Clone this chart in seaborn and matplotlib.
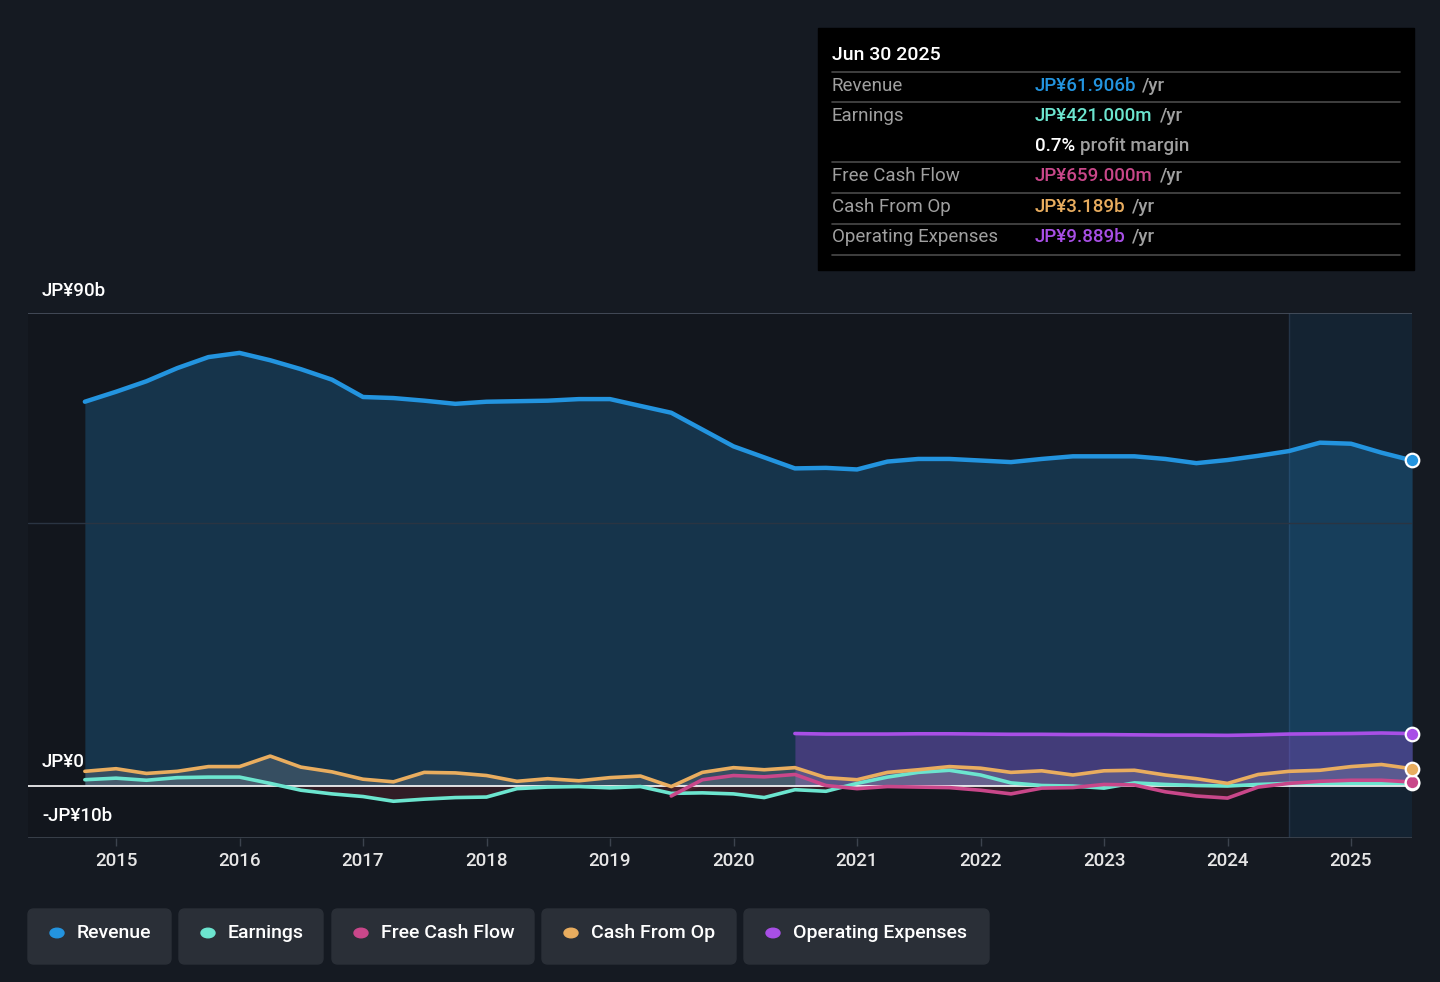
import pandas as pd
import numpy as np
import matplotlib.pyplot as plt
import seaborn as sns
from matplotlib.patches import Rectangle, FancyBboxPatch, Circle
from matplotlib.lines import Line2D
import matplotlib.transforms as mtransforms

# quarterly trailing-twelve-month values, JP¥ billions
quarters = pd.date_range('2014-09-30', '2025-06-30', freq='QE')
revenue = [73.1, 75.0, 77.0, 79.5, 81.6, 82.4, 81.0, 79.3, 77.3, 74.0,
           73.8, 73.3, 72.7, 73.1, 73.2, 73.3, 73.6, 73.6, 72.3, 71.0,
           67.8, 64.6, 62.5, 60.4, 60.5, 60.2, 61.7, 62.2, 62.2, 61.9,
           61.6, 62.2, 62.7, 62.7, 62.7, 62.2, 61.4, 62.0, 62.8, 63.7,
           65.3, 65.1, 63.4, 61.906]
earnings = [1.1, 1.4, 1.0, 1.5, 1.6, 1.6, 0.4, -0.9, -1.6, -2.1,
            -3.0, -2.6, -2.3, -2.2, -0.6, -0.3, -0.2, -0.45, -0.2, -1.5,
            -1.4, -1.6, -2.3, -0.8, -1.1, 0.4, 1.6, 2.5, 2.9, 2.0,
            0.5, 0.0, -0.1, -0.5, 0.5, 0.2, 0.0, -0.1, 0.2, 0.4,
            0.4, 0.4, 0.4, 0.421]
cash_from_op = [2.7, 3.2, 2.3, 2.7, 3.6, 3.6, 5.6, 3.5, 2.6, 1.2,
                0.7, 2.5, 2.4, 1.9, 0.8, 1.3, 0.9, 1.5, 1.8, -0.2,
                2.5, 3.4, 3.0, 3.4, 1.5, 1.1, 2.5, 3.0, 3.6, 3.3,
                2.5, 2.8, 2.0, 2.8, 2.9, 2.0, 1.3, 0.4, 2.1, 2.7,
                2.9, 3.6, 4.0, 3.189]
free_cash_flow = [None] * 19 + [
    -2.0, 1.1, 1.9, 1.65, 2.1, 0.0, -0.6, -0.2, -0.3, -0.4,
    -0.9, -1.6, -0.5, -0.4, 0.2, 0.1, -1.2, -2.0, -2.4, -0.3,
    0.4, 0.8, 1.0, 1.0, 0.659]
op_expenses = [None] * 23 + [
    9.9, 9.8, 9.8, 9.8, 9.85, 9.85, 9.8, 9.75, 9.75, 9.7,
    9.7, 9.65, 9.6, 9.6, 9.55, 9.65, 9.8, 9.85, 9.9, 10.0, 9.889]

year_ticks = list(range(2015, 2026))
y_labels = ['JP¥90b', 'JP¥0', '-JP¥10b']

colors = {
    'Revenue': '#2394df',
    'Earnings': '#6ce5cf',
    'Free Cash Flow': '#c9478a',
    'Cash From Op': '#e9ad5f',
    'Operating Expenses': '#a84fe6',
}

def dec_year(d):
    days = 366 if d.is_leap_year else 365
    return d.year + d.dayofyear / days

t = np.array([dec_year(d) for d in quarters])
df = pd.DataFrame({
    't': t,
    'Revenue': np.array(revenue, dtype=float),
    'Earnings': np.array(earnings, dtype=float),
    'Free Cash Flow': np.array(free_cash_flow, dtype=float),
    'Cash From Op': np.array(cash_from_op, dtype=float),
    'Operating Expenses': np.array(op_expenses, dtype=float),
})

sns.set_theme(style='dark')
plt.rcParams['font.family'] = ['Roboto', 'DejaVu Sans']

BG = '#151a22'
W, H = 1440, 982
fig = plt.figure(figsize=(14.4, 9.82), dpi=100, facecolor=BG)

def fx(x):
    return x / W

def fy(y):
    return 1 - y / H

ax = fig.add_axes([fx(28), fy(838), fx(1384), (838 - 313) / H])
ax.set_facecolor('#12161d')
for s in ax.spines.values():
    s.set_visible(False)

x0 = 2015 + (28 - 116) / 123.5
x1 = 2015 + (1412 - 116) / 123.5
ax.set_xlim(x0, x1)
ax.set_ylim(-10, 90)

# past-year highlight
ax.axvspan(2024.5, x1, color='#1d4a72', alpha=0.25, lw=0, zorder=0)
ax.axvline(2024.5, color='#243447', lw=1, zorder=0.5)

# fills
ax.fill_between(df['t'], 0, df['Revenue'], color=colors['Revenue'], alpha=0.24, lw=0, zorder=1)
m = df['Operating Expenses'].notna()
ax.fill_between(df['t'][m], 0, df['Operating Expenses'][m], color=colors['Operating Expenses'],
                alpha=0.3, lw=0, zorder=1.2)
for name, a in [('Cash From Op', 0.18), ('Earnings', 0.12), ('Free Cash Flow', 0.12)]:
    m = df[name].notna()
    v = df[name][m]
    ax.fill_between(df['t'][m], 0, v.clip(lower=0), color='#c8c8c8', alpha=a, lw=0, zorder=1.3)
    ax.fill_between(df['t'][m], 0, v.clip(upper=0), color='#e64a5a', alpha=0.15, lw=0, zorder=1.3)

# grid / reference lines
ax.axhline(90, color='#4a5260', lw=1.2, zorder=2)
ax.axhline(50, color='#2a3442', lw=1, zorder=2)
ax.axhline(0, color='#ffffff', lw=1.2, zorder=2)
ax.axhline(-10, color='#3c434e', lw=2, zorder=2)

# lines
order = ['Revenue', 'Operating Expenses', 'Earnings', 'Free Cash Flow', 'Cash From Op']
for name in order:
    lw = 3.2 if name == 'Revenue' else 2.6
    sns.lineplot(data=df, x='t', y=name, color=colors[name], lw=lw, ax=ax,
                 legend=False, zorder=3)
    last = df[df[name].notna()].iloc[-1]
    ax.scatter([last['t']], [last[name]], s=95, color=colors[name], edgecolor='white',
               linewidth=1.6, zorder=5, clip_on=False)

ax.set_xlabel('')
ax.set_ylabel('')
ax.set_yticks([])
ax.set_xticks(year_ticks)
ax.set_xticklabels([str(y) for y in year_ticks], color='#e6e6e6', fontsize=13.5,
                   fontweight='medium')
ax.tick_params(axis='x', length=6, width=1, color='#3c434e', pad=4, bottom=True)

trans = mtransforms.blended_transform_factory(ax.transAxes, ax.transData)
for lab, yv in zip(y_labels, [94.2, 4.4, -5.9]):
    ax.text(14 / 1384, yv, lab, transform=trans, color='#ffffff', fontsize=13.5,
            fontweight='medium', va='center', ha='left', clip_on=False, zorder=6)

# tooltip box
fig.patches.append(Rectangle((fx(818), fy(270)), fx(596), (270 - 28) / H,
                             transform=fig.transFigure, color='#000000', zorder=10))
fig.text(fx(832), fy(55), 'Jun 30 2025', color='#ffffff', fontsize=14, fontweight='medium',
         va='center', zorder=11)
for yl in [72, 102, 162, 193, 224, 255]:
    fig.add_artist(Line2D([fx(832), fx(1400)], [fy(yl), fy(yl)], color='#4a4a4a', lw=1.2,
                          transform=fig.transFigure, zorder=11))
rows = [
    (86, 'Revenue', 'JP¥61.906b', colors['Revenue'], 1142),
    (116, 'Earnings', 'JP¥421.000m', colors['Earnings'], 1160),
    (176, 'Free Cash Flow', 'JP¥659.000m', colors['Free Cash Flow'], 1160),
    (207, 'Cash From Op', 'JP¥3.189b', colors['Cash From Op'], 1132),
    (237, 'Operating Expenses', 'JP¥9.889b', colors['Operating Expenses'], 1132),
]
for yr, lab, val, c, xr in rows:
    fig.text(fx(832), fy(yr), lab, color='#a0a0a0', fontsize=13.5, va='center', zorder=11)
    fig.text(fx(1035), fy(yr), val, color=c, fontsize=13.5, fontweight='medium', va='center', zorder=11)
    fig.text(fx(xr), fy(yr), '/yr', color='#a0a0a0', fontsize=13.5, fontweight='medium',
             va='center', zorder=11)
fig.text(fx(1035), fy(146), '0.7%', color='#ffffff', fontsize=13.5, fontweight='medium',
         va='center', zorder=11)
fig.text(fx(1080), fy(146), 'profit margin', color='#a0a0a0', fontsize=13.5, fontweight='medium',
         va='center', zorder=11)

# legend buttons
buttons = [
    ('Revenue', 28, 171),
    ('Earnings', 179, 323),
    ('Free Cash Flow', 332, 534),
    ('Cash From Op', 542, 736),
    ('Operating Expenses', 744, 989),
]
for name, xa, xb in buttons:
    fig.patches.append(FancyBboxPatch((fx(xa), fy(964)), fx(xb - xa), 55 / H,
                                      boxstyle='round,pad=0,rounding_size=0.004',
                                      transform=fig.transFigure, color='#2a2f37', zorder=10,
                                      mutation_aspect=W / H))
    fig.patches.append(Circle((fx(xa + 29), fy(933)), 7 / W, transform=fig.transFigure,
                              color=colors[name], zorder=11))
    fig.text(fx(xa + 49), fy(933), name, color='#ffffff', fontsize=14, fontweight='medium',
             va='center', zorder=12)

fig.savefig('out.png', dpi=100, facecolor=BG)
